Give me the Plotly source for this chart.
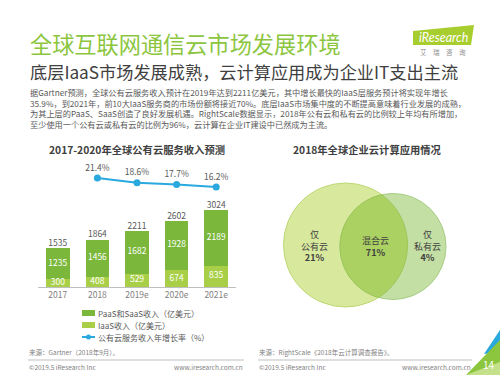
import numpy as np
import plotly.graph_objects as go

W, H = 500, 375
FONT = "Noto Sans CJK SC, Noto Sans, sans-serif"

# ---------------- data ----------------
years = ["2017", "2018", "2019e", "2020e", "2021e"]
iaas = [300, 408, 529, 674, 835]
paas_saas = [1235, 1456, 1682, 1928, 2189]
totals = [1535, 1864, 2211, 2602, 3024]
growth_years = ["2018", "2019e", "2020e", "2021e"]
growth = [21.4, 18.6, 17.7, 16.2]

venn_names = [["仅", "公有云"], ["混合云"], ["仅", "私有云"]]
venn_values = [21, 71, 4]

legend_names = ["PaaS和SaaS收入（亿美元）", "IaaS收入（亿美元）", "公有云服务收入年增长率（%）"]

title = "全球互联网通信云市场发展环境"
subtitle = "底层IaaS市场发展成熟，云计算应用成为企业IT支出主流"
paragraph = [
    "据Gartner预测，全球公有云服务收入预计在2019年达到2211亿美元，其中增长最快的IaaS层服务预计将实现年增长",
    "35.9%，到2021年，前10大IaaS服务商的市场份额将接近70%。底层IaaS市场集中度的不断提高意味着行业发展的成熟，",
    "为其上层的PaaS、SaaS创造了良好发展机遇。RightScale数据显示，2018年公有云和私有云的比例较上年均有所增加，",
    "至少使用一个公有云或私有云的比例为96%，云计算在企业IT建设中已然成为主流。",
]

PAAS_C = "#7ab73a"
IAAS_C = "#a8cf47"
LINE_C = "#2aa9de"
GRAY = "#595959"


def px(x):
    return x / W


def py(y):
    return 1 - y / H


fig = go.Figure()

# stacked bars
fig.add_bar(x=years, y=iaas, marker_color=IAAS_C, marker_line_width=0, name=legend_names[1],
            hoverinfo="skip")
fig.add_bar(x=years, y=paas_saas, marker_color=PAAS_C, marker_line_width=0, name=legend_names[0],
            hoverinfo="skip")
# segment labels
fig.add_scatter(x=years, y=[v / 2 for v in iaas], mode="text", text=[str(v) for v in iaas],
                textfont=dict(color="white", size=8.5, family=FONT), hoverinfo="skip")
fig.add_scatter(x=years, y=[a + b / 2 for a, b in zip(iaas, paas_saas)], mode="text",
                text=[str(v) for v in paas_saas],
                textfont=dict(color="white", size=8.5, family=FONT), hoverinfo="skip")
fig.add_scatter(x=years, y=totals, mode="text", text=[str(v) for v in totals],
                textposition="top center",
                textfont=dict(color=GRAY, size=8.5, family=FONT), hoverinfo="skip")
# growth line
fig.add_scatter(x=growth_years, y=growth, yaxis="y2", mode="lines+markers+text",
                text=[f"{g}%" for g in growth], textposition="top center",
                textfont=dict(color=GRAY, size=8.5, family=FONT),
                line=dict(color=LINE_C, width=2), marker=dict(size=7, color=LINE_C),
                hoverinfo="skip")

shapes = []
ann = []


def text(x, y, s, size, color=GRAY, anchor="left", bold=False, family=FONT, align="left"):
    if bold:
        s = f"<b>{s}</b>"
    ann.append(dict(x=px(x), y=py(y), xref="paper", yref="paper", text=s, showarrow=False,
                    xanchor=anchor, yanchor="middle", align=align, borderpad=0,
                    font=dict(size=size, color=color, family=family)))


# header
text(29, 43, title, 22.2, color="#8cc63f")
text(29, 72, subtitle, 17.2, color="#404040")
text(29, 108, "<br>".join(paragraph), 8.2, color=GRAY)

# logo
shapes.append(dict(type="path", xref="paper", yref="paper",
                   path=f"M {px(413)} {py(31)} L {px(474)} {py(25)} L {px(471)} {py(45)} L {px(413)} {py(45)} Z",
                   fillcolor="#a7cd2e", line=dict(width=0)))
text(443, 37, "<i>iResearch</i>", 12.5, color="white", anchor="center", family="Lato, sans-serif")
text(443, 52, "艾　瑞　咨　询", 6.5, color="#8c8c8c", anchor="center")

# chart titles
text(137, 149, "2017-2020年全球公有云服务收入预测", 10.3, color="#404040", anchor="center", bold=True)
text(367, 149, "2018年全球企业云计算应用情况", 10.3, color="#404040", anchor="center", bold=True)

# manual legend
lx0, lx1 = 82, 95
for i, (nm, col) in enumerate(zip(legend_names[:2], [PAAS_C, IAAS_C])):
    yy = 313 + 12 * i
    shapes.append(dict(type="rect", xref="paper", yref="paper", x0=px(lx0), x1=px(lx1),
                       y0=py(yy + 3), y1=py(yy - 3), fillcolor=col, line=dict(width=0)))
    text(97, yy, nm, 8, color=GRAY)
yy = 337
shapes.append(dict(type="line", xref="paper", yref="paper", x0=px(lx0), x1=px(lx1), y0=py(yy), y1=py(yy),
                   line=dict(color=LINE_C, width=2)))
shapes.append(dict(type="circle", xref="paper", yref="paper", x0=px(86), x1=px(91), y0=py(yy + 2.5),
                   y1=py(yy - 2.5), fillcolor=LINE_C, line=dict(width=0)))
text(97, yy, legend_names[2], 8, color=GRAY)

# Venn diagram
c1, r1 = np.array([345.5, 245.0]), 62.0
c2, r2 = np.array([393.0, 246.5]), 53.0


def circle(c, r, fill, line):
    shapes.append(dict(type="circle", xref="paper", yref="paper", x0=px(c[0] - r), x1=px(c[0] + r),
                       y0=py(c[1] + r), y1=py(c[1] - r), fillcolor=fill, line=dict(color=line, width=1)))


circle(c1, r1, "#d8e99e", "#bcd872")
circle(c2, r2, "#c4dfa4", "#a6cd84")
d = np.linalg.norm(c2 - c1)
a = (d ** 2 + r1 ** 2 - r2 ** 2) / (2 * d)
phi = np.arctan2(*(c2 - c1)[::-1])
al1 = np.arccos(a / r1)
al2 = np.arccos((d - a) / r2)
t1 = np.linspace(phi - al1, phi + al1, 80)
t2 = np.linspace(phi + np.pi - al2, phi + np.pi + al2, 80)
pts = [(c1[0] + r1 * np.cos(t), c1[1] + r1 * np.sin(t)) for t in t1] + \
      [(c2[0] + r2 * np.cos(t), c2[1] + r2 * np.sin(t)) for t in t2]
path = "M " + " L ".join(f"{px(x):.5f} {py(y):.5f}" for x, y in pts) + " Z"
shapes.append(dict(type="path", xref="paper", yref="paper", path=path, fillcolor="#abd163",
                   line=dict(color="#9cc757", width=1)))

venn_x = [314, 375, 427]
for x, names, v in zip(venn_x, venn_names, venn_values):
    label = "<br>".join(names + [f"<b>{v}%</b>"])
    text(x, 246, label, 9, color="#404040", anchor="center", align="center")

# footers
for x0, x1, src in [(28, 244, "来源：Gartner（2018年9月）。"),
                    (258, 472, "来源：RightScale《2018年云计算调查报告》。")]:
    text(x0, 352, src, 6.5, color="#7f7f7f")
    shapes.append(dict(type="line", xref="paper", yref="paper", x0=px(x0), x1=px(x1), y0=py(360), y1=py(360),
                       line=dict(color="#bfbfbf", width=1)))
    text(x0, 367, "©2019.5 iResearch Inc", 6.5, color="#7f7f7f")
    text(x1, 367, "www.iresearch.com.cn", 6.5, color="#7f7f7f", anchor="right")

# corner decoration
shapes.append(dict(type="path", xref="paper", yref="paper",
                   path=f"M {px(484)} {py(354)} L {px(500)} {py(330)} L {px(500)} {py(352)} Z",
                   fillcolor="#2aa9de", line=dict(width=0)))
shapes.append(dict(type="path", xref="paper", yref="paper",
                   path=f"M {px(466)} {py(375)} L {px(500)} {py(340)} L {px(500)} {py(375)} Z",
                   fillcolor="#8cc63f", line=dict(width=0)))
shapes.append(dict(type="path", xref="paper", yref="paper",
                   path=f"M {px(466)} {py(375)} L {px(500)} {py(362)} L {px(500)} {py(375)} Z",
                   fillcolor="#c5e08a", line=dict(width=0)))
text(489, 364, "14", 10, color="white", anchor="center")

ybot, ytop = 287, 160
ymax = 3024 * (ybot - ytop) / (ybot - 210)
g_top = 21.4 + (178 - ytop) / 1.73
g_bot = 21.4 - (ybot - 178) / 1.73

fig.update_layout(
    width=W, height=H, margin=dict(l=0, r=0, t=0, b=0),
    paper_bgcolor="white", plot_bgcolor="rgba(0,0,0,0)",
    barmode="stack", bargap=0.4, showlegend=False,
    font=dict(family=FONT, color=GRAY),
    xaxis=dict(domain=[px(38), px(236)], showline=True, linecolor="#bfbfbf", linewidth=1,
               ticks="", showgrid=False, zeroline=False, fixedrange=True,
               tickfont=dict(size=8.5, color="#7f7f7f", family=FONT)),
    yaxis=dict(domain=[py(ybot), py(ytop)], range=[0, ymax], visible=False, fixedrange=True),
    yaxis2=dict(domain=[py(ybot), py(ytop)], range=[g_bot, g_top], overlaying="y", visible=False,
                fixedrange=True),
    shapes=shapes, annotations=ann,
)

fig.write_html("out.html", config={"displayModeBar": False},
               post_script="document.body.style.margin='0';document.body.style.overflow='hidden';")
